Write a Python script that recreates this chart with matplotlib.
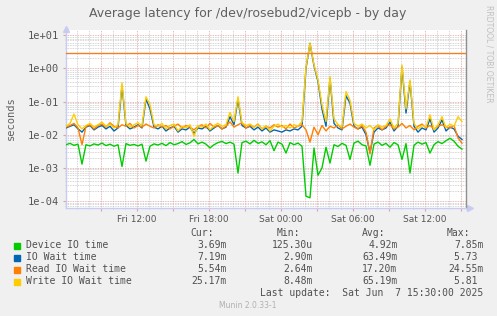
import matplotlib
matplotlib.use("Agg")
import matplotlib.pyplot as plt
import matplotlib.dates as mdates
from matplotlib.ticker import FuncFormatter, LogLocator, NullFormatter
import numpy as np
import pandas as pd

# ---------------- data (milliseconds, one sample every 20 min) ----------------
start_time = "2025-06-06 06:05"
step_minutes = 20

device_io_ms = [
    5.0, 5.5, 4.8, 5.2, 1.3, 5.0, 4.6, 5.3, 4.9, 5.6,
    4.7, 5.2, 4.5, 5.0, 1.1, 5.4, 4.8, 5.1, 4.6, 5.2,
    1.6, 4.5, 5.3, 4.9, 5.5, 4.7, 5.8, 5.0, 5.4, 6.2,
    5.1, 5.7, 7.2, 5.3, 6.0, 5.2, 4.0, 5.0, 5.8, 6.3,
    5.4, 6.0, 5.2, 0.7, 5.8, 6.4, 5.3, 6.8, 5.5, 6.1,
    5.0, 6.6, 3.3, 6.0, 5.2, 2.8, 5.8, 5.0, 5.6, 4.5,
    0.14, 0.125, 4.0, 0.6, 1.0, 4.2, 1.4, 5.0, 4.4, 5.5,
    4.8, 1.8, 5.6, 6.4, 5.0, 4.6, 1.2, 5.2, 6.0, 4.8,
    5.5, 4.2, 5.8, 5.0, 1.8, 5.4, 0.7, 4.8, 6.0, 5.2,
    5.8, 2.8, 5.0, 6.2, 5.4, 6.6, 7.85, 6.4, 4.5, 3.69,
]
io_wait_ms = [
    16, 18, 20, 15, 12, 17, 19, 14, 17, 19,
    15, 18, 13, 16, 300, 19, 15, 17, 20, 16,
    120, 60, 17, 15, 18, 13, 16, 18, 12, 15,
    14, 17, 11, 16, 15, 18, 13, 16, 19, 15,
    17, 35, 20, 120, 19, 16, 18, 14, 17, 13,
    16, 12, 14, 13, 12, 14, 13, 15, 14, 18,
    1000, 5730, 1200, 400, 60, 18, 500, 22, 16, 14,
    150, 90, 18, 15, 17, 10, 2.9, 12, 16, 14,
    16, 24, 13, 18, 1100, 45, 400, 18, 12, 16,
    14, 30, 12, 16, 28, 13, 17, 15, 9, 7.19,
]
read_wait_ms = [
    17, 19, 22, 16, 5, 18, 20, 15, 19, 21,
    17, 23, 18, 16, 20, 18, 22, 16, 19, 17,
    21, 18, 16, 20, 17, 19, 15, 18, 21, 16,
    19, 17, 14, 18, 20, 16, 22, 17, 19, 15,
    18, 24.55, 17, 20, 23, 16, 19, 17, 21, 15,
    18, 16, 20, 17, 19, 15, 21, 16, 18, 20,
    14, 6, 17, 10, 19, 13, 18, 16, 20, 15,
    18, 21, 17, 15, 19, 12, 2.64, 16, 19, 14,
    18, 20, 15, 17, 22, 16, 19, 14, 18, 21,
    16, 19, 15, 18, 20, 17, 16, 19, 8, 5.54,
]
write_wait_ms = [
    18, 22, 42, 20, 15, 19, 22, 17, 20, 24,
    18, 21, 16, 20, 370, 22, 17, 20, 23, 19,
    140, 80, 20, 18, 22, 15, 19, 21, 13, 18,
    16, 20, 9, 19, 17, 21, 14, 19, 22, 18,
    20, 47, 25, 140, 23, 19, 21, 17, 20, 15,
    19, 13, 18, 21, 17, 19, 16, 20, 18, 25,
    1100, 5810, 1300, 450, 80, 25, 570, 30, 20, 17,
    200, 110, 22, 18, 21, 16, 19, 14, 20, 17,
    19, 30, 16, 22, 1270, 60, 450, 22, 15, 19,
    17, 40, 14, 20, 35, 16, 21, 18, 35, 25,
]
warning_level = 2.9

series_names = ["Device IO time", "IO Wait time", "Read IO Wait time", "Write IO Wait time"]
series_colors = ["#00CC00", "#0066B3", "#FF8000", "#FFCC00"]
legend_cur = ["3.69m", "7.19m", "5.54m", "25.17m"]
legend_min = ["125.30u", "2.90m", "2.64m", "8.48m"]
legend_avg = ["4.92m", "63.49m", "17.20m", "65.19m"]
legend_max = ["7.85m", "5.73 ", "24.55m", "5.81 "]

title = "Average latency for /dev/rosebud2/vicepb - by day"
ylabel = "seconds"
last_update = "Last update:  Sat Jun  7 15:30:00 2025"
footer = "Munin 2.0.33-1"
side_text = "RRDTOOL / TOBI OETIKER"

# ---------------- figure ----------------
W, H = 497, 316
fig = plt.figure(figsize=(W / 100, H / 100), dpi=100, facecolor="#F0F0F0")
ax = fig.add_axes([66 / W, (H - 208) / H, 400 / W, 178 / H], facecolor="white")

n = len(device_io_ms)
times = pd.date_range(start_time, periods=n, freq=f"{step_minutes}min")
xmin = pd.Timestamp(start_time)
xmax = xmin + pd.Timedelta(minutes=400 * 5)

for vals, col in zip([device_io_ms, io_wait_ms, read_wait_ms, write_wait_ms], series_colors):
    ax.plot(times, np.array(vals) / 1000.0, color=col, lw=1.0, zorder=3)

ax.axhline(warning_level, color="#F08020", lw=1.0, zorder=4)

ax.set_yscale("log")
ax.set_ylim(10 ** -4.21, 10 ** 1.16)
ax.set_xlim(xmin, xmax)

ax.yaxis.set_major_locator(LogLocator(base=10, numticks=20))
ax.yaxis.set_minor_locator(LogLocator(base=10, subs=np.arange(2, 10), numticks=20))
ax.yaxis.set_minor_formatter(NullFormatter())
ax.yaxis.set_major_formatter(FuncFormatter(lambda v, p: "%.0e" % v))

ax.xaxis.set_major_locator(mdates.HourLocator(byhour=range(0, 24, 3)))
ax.xaxis.set_minor_locator(mdates.HourLocator())
ax.xaxis.set_major_formatter(FuncFormatter(
    lambda v, p: mdates.num2date(v).strftime("%a %H:%M") if mdates.num2date(v).hour % 6 == 0 else ""))

ax.grid(which="minor", color="#C8C8C8", lw=0.6, ls=(0, (1, 1)), zorder=1)
ax.grid(which="major", color="#E6A0A0", lw=0.6, ls=(0, (1, 1)), zorder=2)

for lab in ax.get_yticklabels():
    lab.set_family("DejaVu Sans Mono")
ax.tick_params(axis="y", which="major", labelsize=7.5, length=2, color="#E6A0A0",
               labelcolor="#555555", pad=3)
ax.tick_params(axis="y", which="minor", length=1, color="#C8C8C8")
ax.tick_params(axis="x", which="major", labelsize=6.5, length=2, color="#E6A0A0",
               labelcolor="#555555", pad=3)
ax.tick_params(axis="x", which="minor", length=1, color="#C8C8C8")
for lab in ax.get_yticklabels():
    lab.set_family("DejaVu Sans Mono")

ax.spines["top"].set_visible(False)
ax.spines["left"].set_color("#C8CCF0")
ax.spines["bottom"].set_color("#C8CCF0")
ax.spines["right"].set_color("#909090")
for s in ax.spines.values():
    s.set_linewidth(1.0)

# axis arrows
ax.plot([0], [1.008], marker="^", color="#C8CCF0", ms=4, transform=ax.transAxes, clip_on=False)
ax.plot([1.01], [0], marker=">", color="#C8CCF0", ms=4, transform=ax.transAxes, clip_on=False)

# ---------------- texts ----------------
def fx(px):
    return px / W

def fy(py):
    return 1 - py / H

fig.text(fx(248), fy(14), title, ha="center", va="center", fontsize=9, color="#606060",
         family="DejaVu Sans")
fig.text(fx(11), fy(118), ylabel, ha="center", va="center", rotation=90, fontsize=7.5,
         color="#606060", family="DejaVu Sans Mono")
fig.text(fx(489), fy(5), side_text, ha="center", va="top", rotation=270, fontsize=5.5,
         color="#C0C0C0", family="DejaVu Sans")

mono = dict(family="DejaVu Sans Mono", fontsize=7, color="#505050", va="center")
fig.text(fx(190.5), fy(233.5), "Cur:", ha="left", **mono)
fig.text(fx(276.5), fy(233.5), "Min:", ha="left", **mono)
fig.text(fx(361.5), fy(233.5), "Avg:", ha="left", **mono)
fig.text(fx(447), fy(233.5), "Max:", ha="left", **mono)

for k in range(4):
    yy = fy(245.5 + 12 * k)
    fig.patches.append(plt.Rectangle((fx(14), yy - 3 / H), 6 / W, 6 / H,
                                     transform=fig.transFigure, color=series_colors[k]))
    fig.text(fx(26.5), yy, series_names[k], ha="left", **mono)
    fig.text(fx(226.5), yy, legend_cur[k], ha="right", **mono)
    fig.text(fx(312.5), yy, legend_min[k], ha="right", **mono)
    fig.text(fx(397.5), yy, legend_avg[k], ha="right", **mono)
    fig.text(fx(483.5), yy, legend_max[k], ha="right", **mono)

fig.text(fx(483.5), fy(293.5), last_update, ha="right", **mono)
fig.text(fx(248), fy(305.5), footer, ha="center", va="center", fontsize=5.5,
         color="#B0B0B0", family="DejaVu Sans")

fig.savefig("out.png", dpi=100, facecolor=fig.get_facecolor())
